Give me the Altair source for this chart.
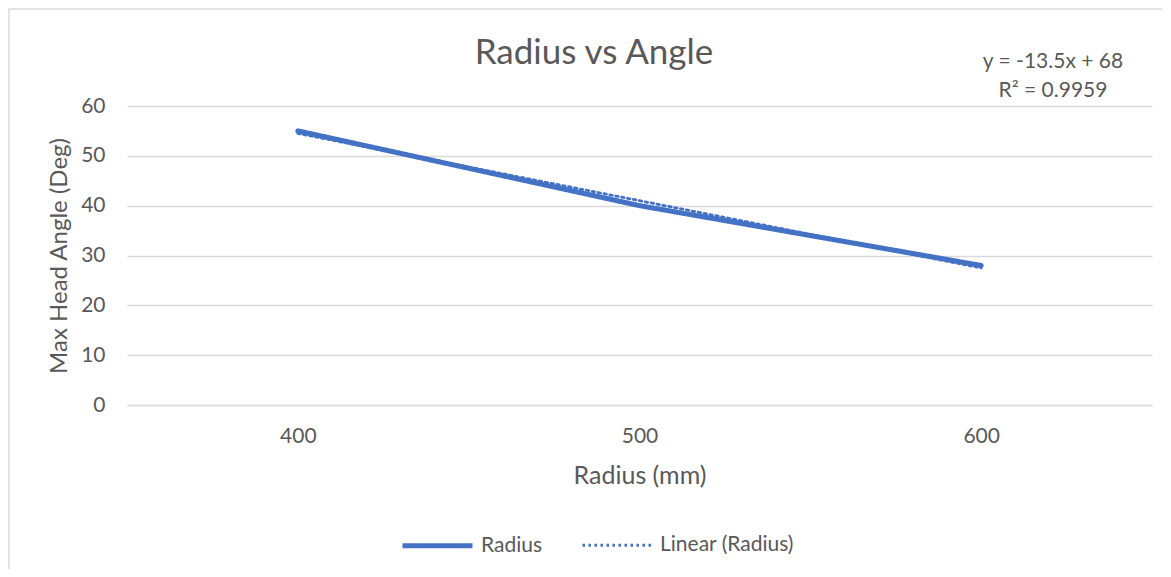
import altair as alt
import pandas as pd

categories = ["400", "500", "600"]
radius_values = [55, 40, 28]
trend_values = [54.5, 41, 27.5]
series_names = ["Radius", "Linear (Radius)"]
equation_lines = ["y = -13.5x + 68", "R² = 0.9959"]
chart_title = "Radius vs Angle"

rows = []
for c, v in zip(categories, radius_values):
    rows.append({"Radius (mm)": c, "value": v, "series": series_names[0], "order": 0})
for c, v in zip(categories, trend_values):
    rows.append({"Radius (mm)": c, "value": v, "series": series_names[1], "order": 1})
df = pd.DataFrame(rows)

FONT = "Lato"
GREY = "#595959"
BLUE = "#4472C4"

lines = alt.Chart(df).mark_line(strokeCap="round", strokeJoin="round").encode(
    x=alt.X("Radius (mm):N", sort=categories,
            scale=alt.Scale(type="point", padding=0.5),
            axis=alt.Axis(title="Radius (mm)", labelAngle=0, ticks=False,
                          labelPadding=20, titlePadding=17, grid=False,
                          domainColor="#d9d9d9", domainWidth=1.5, titleFontSize=25)),
    y=alt.Y("value:Q", scale=alt.Scale(domain=[0, 60], nice=False),
            axis=alt.Axis(title="Max Head Angle (Deg)", values=[0, 10, 20, 30, 40, 50, 60],
                          ticks=False, domain=False, labelPadding=22, titlePadding=9,
                          gridColor="#d9d9d9", gridWidth=1.5, titleFontSize=24)),
    color=alt.Color("series:N", sort=series_names,
                    scale=alt.Scale(domain=series_names, range=[BLUE, BLUE]),
                    legend=alt.Legend(title=None, orient="none", direction="horizontal",
                                      legendX=273, legendY=402, symbolType="stroke",
                                      symbolSize=4900, labelFontSize=21, labelColor=GREY,
                                      labelFont=FONT, labelOffset=6, columnPadding=33,
                                      padding=0)),
    strokeDash=alt.StrokeDash("series:N", sort=series_names,
                              scale=alt.Scale(domain=series_names, range=[[1, 0], [2.5, 3.5]]),
                              legend=alt.Legend(title=None)),
    strokeWidth=alt.StrokeWidth("series:N", sort=series_names,
                                scale=alt.Scale(domain=series_names, range=[5, 2.8]),
                                legend=alt.Legend(title=None)),
    order=alt.Order("order:Q"),
)

def label(text, x, y, size):
    return alt.Chart(pd.DataFrame({"text": [text]})).mark_text(
        font=FONT, fontSize=size, color=GREY, align="center", baseline="middle"
    ).encode(x=alt.value(x), y=alt.value(y), text="text:N")

title_mark = label(chart_title, 467, -53, 35)
eq1 = label(equation_lines[0], 926, -44, 21)
eq2 = label(equation_lines[1], 926, -15, 21)

border = alt.Chart(pd.DataFrame({"a": [0]})).mark_rect(
    fill=None, stroke="#d9d9d9", strokeWidth=1.5
).encode(x=alt.value(-118), x2=alt.value(1100), y=alt.value(-97), y2=alt.value(520))

chart = alt.layer(border, lines, title_mark, eq1, eq2).properties(
    width=1025, height=299,
    background="white",
    autosize=alt.AutoSizeParams(type="none"),
    padding={"left": 119, "top": 98, "right": 10, "bottom": 164},
).configure_view(stroke=None).configure_axis(
    labelFont=FONT, titleFont=FONT, labelFontSize=21,
    labelColor=GREY, titleColor=GREY, titleFontWeight="normal",
)

chart.save("out.html", embed_options={"renderer": "svg", "actions": False})
